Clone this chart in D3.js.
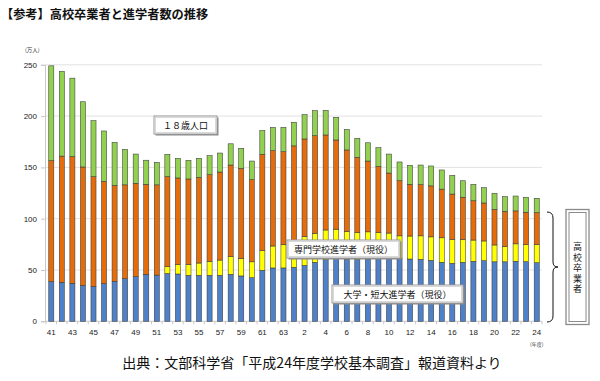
<!DOCTYPE html>
<html><head><meta charset="utf-8">
<script src="https://cdn.jsdelivr.net/npm/d3@7"></script>
<style>
html,body{margin:0;padding:0;background:#fff;}
svg{display:block;}
</style></head>
<body>
<svg id="chart" width="600" height="381"></svg>
<script>
// 年度 (昭和41〜63, 平成元〜24)
const categories = ["41","42","43","44","45","46","47","48","49","50","51","52","53","54","55","56","57","58","59","60","61","62","63",
  "元","2","3","4","5","6","7","8","9","10","11","12","13","14","15","16","17","18","19","20","21","22","23","24"];
const tickLabels = ["41","43","45","47","49","51","53","55","57","59","61","63","2","4","6","8","10","12","14","16","18","20","22","24"];
// 18歳人口 (万人)
const population18 = [249,243.6,237,214,195.5,185.5,174.4,167.6,163,157,155,162.8,158.8,156.9,158.8,161.4,164,173,168.6,156.2,186,189,189,
  194,201.4,205.3,205.6,198.8,187,178.4,174,169.2,163,155.3,152,152.3,151.4,147.5,142.3,137,133.5,130.2,124.8,121.5,122.1,120.9,119.9];
// 高校卒業者 (万人)
const graduates = [156.5,161,160.6,150.4,141,136.4,132.5,133,134.5,133.5,133,141,139.7,138.7,140.3,142.9,145.5,152.3,149,138,162.7,166.3,165.3,
  171,177.7,180.9,181.6,176.7,167,159.8,156.2,151,144.5,137,133.5,133.2,132,128.8,124,120.9,117.5,115.3,109.1,107.2,107.6,106.3,106];
// 大学・短大進学者（現役）(万人)
const university = [38.6,38,37,35,34,36.7,39,41.5,43.5,45.8,45,46.6,46.1,44.8,44.8,44.8,44.8,45.8,44.2,42.5,49.7,52,52,
  52.6,54.5,57.5,60,61.5,60.5,60.3,60.8,61,61,61.2,60.7,60.4,59.4,57.5,56.5,57.5,58.5,59.1,58,58,58.5,58.1,57.1];
// 専門学校進学者（現役）(万人)
const vocational = [0,0,0,0,0,0,0,0,0,0,0,6.9,9.4,10.7,12,13.7,14.9,17.2,17.2,15.5,19.3,21.4,22.6,
  25.4,28,28.3,29,28.3,26.9,26.1,26.4,25.7,25,22.1,22.4,22.9,22.9,23.9,23.4,22,20.7,19.2,16.4,15,17,16.6,17.6];
const yTicks = [0,50,100,150,200,250];
const seriesKeys = ["univ","voc","rest","other"];
const seriesColors = {univ:"#4f81c9", voc:"#ffff00", rest:"#e46c0a", other:"#92d050"};

const rows = categories.map((c,i)=>({
  cat:c,
  univ:university[i],
  voc:vocational[i],
  rest:graduates[i]-university[i]-vocational[i],
  other:population18[i]-graduates[i]
}));

const svg = d3.select("#chart");
svg.append("rect").attr("width",600).attr("height",381).attr("fill","#fff");

const pL=45, pR=542, pT=64.8, pB=321.3;
const x = d3.scaleBand().domain(categories).range([46,542]).paddingInner(0.52).paddingOuter(0.26);
const y = d3.scaleLinear().domain([0,250]).range([pB,pT]);

const numFont = "'Liberation Sans', Arial, sans-serif";
const jpFont = "'Noto Sans CJK JP', sans-serif";

// title
svg.append("text").attr("x",1).attr("y",19).attr("font-family",jpFont).attr("font-size",12.2)
  .attr("font-weight","bold").attr("fill","#111").text("【参考】高校卒業者と進学者数の推移");

// gridlines
svg.append("g").selectAll("line").data(yTicks.filter(d=>d>0)).join("line")
  .attr("x1",pL).attr("x2",pR).attr("y1",d=>y(d)).attr("y2",d=>y(d))
  .attr("stroke","#e2e2e2").attr("stroke-width",1);

// y axis
const yAxis = d3.axisLeft(y).tickValues(yTicks).tickSize(4).tickPadding(4);
const gy = svg.append("g").attr("transform",`translate(${pL},0)`).call(yAxis);
gy.select(".domain").attr("stroke","#c8c8c8");
gy.selectAll(".tick line").attr("stroke","#c8c8c8");
gy.selectAll("text").attr("font-family",numFont).attr("font-size",8).attr("fill","#222");

// x axis
const xAxis = d3.axisBottom(x).tickSize(0).tickPadding(8)
  .tickFormat(d=>tickLabels.includes(d) && categories.indexOf(d)%2===0 ? d : "");
const gx = svg.append("g").attr("transform",`translate(0,${pB})`).call(xAxis);
gx.select(".domain").attr("stroke","#c8c8c8").attr("d",`M${pL},0H${pR}`);
gx.selectAll("text").attr("font-family",numFont).attr("font-size",8).attr("fill","#222");
// tick marks between categories
const step = x.step();
const gap = (step-x.bandwidth())/2;
const bounds = categories.map(d=>x(d)-gap).concat([x(categories[categories.length-1])+x.bandwidth()+gap]);
gx.append("g").selectAll("line").data(bounds).join("line")
  .attr("x1",d=>d).attr("x2",d=>d)
  .attr("y1",0).attr("y2",3).attr("stroke","#c8c8c8");

// units
svg.append("text").attr("x",25).attr("y",52).attr("font-family",jpFont).attr("font-size",5.5).attr("fill","#333").text("(万人)");
svg.append("text").attr("x",530).attr("y",346).attr("font-family",jpFont).attr("font-size",5).attr("fill","#333").text("(年度)");

// stacked bars
const stacked = d3.stack().keys(seriesKeys)(rows);
svg.append("g").selectAll("g").data(stacked).join("g")
  .attr("fill",d=>seriesColors[d.key])
  .selectAll("rect").data(d=>d.filter(s=>s[1]-s[0]>0)).join("rect")
  .attr("x",d=>x(d.data.cat)).attr("width",x.bandwidth())
  .attr("y",d=>y(d[1])).attr("height",d=>y(d[0])-y(d[1]))
  .attr("stroke","#3a3a3a").attr("stroke-width",0.55);

// label boxes
function labelBox(x0,y0,w,h,text){
  const g = svg.append("g");
  g.append("rect").attr("x",x0+1.5).attr("y",y0+1.5).attr("width",w).attr("height",h).attr("fill","#8a8a8a");
  g.append("rect").attr("x",x0).attr("y",y0).attr("width",w).attr("height",h).attr("fill","#fff").attr("stroke","#9a9a9a").attr("stroke-width",1);
  g.append("rect").attr("x",x0+1.5).attr("y",y0+1.5).attr("width",w-3).attr("height",h-3).attr("fill","none").attr("stroke","#d0d0d0").attr("stroke-width",0.8);
  g.append("text").attr("x",x0+w/2).attr("y",y0+h/2).attr("text-anchor","middle").attr("dominant-baseline","central")
    .attr("font-family",jpFont).attr("font-size",9).attr("fill","#111").text(text);
}
labelBox(154,116,63,18,"１８歳人口");
labelBox(287,240,113,18,"専門学校進学者（現役）");
labelBox(332,285,131,18,"大学・短大進学者（現役）");

// brace
svg.append("path")
  .attr("d","M547,212 Q553,212 553,218 L553,262 Q553,267 558,267 Q553,267 553,272 L553,316 Q553,322 547,322")
  .attr("fill","none").attr("stroke","#111").attr("stroke-width",1);

// vertical box
const vb = svg.append("g");
vb.append("rect").attr("x",566).attr("y",209.5).attr("width",23).attr("height",115).attr("fill","#fff").attr("stroke","#8a8a8a").attr("stroke-width",1.3);
vb.append("rect").attr("x",569).attr("y",212.5).attr("width",17).attr("height",109).attr("fill","none").attr("stroke","#8a8a8a").attr("stroke-width",1);
vb.append("text").attr("x",577.5).attr("y",242)
  .attr("writing-mode","vertical-rl").style("writing-mode","vertical-rl")
  .attr("letter-spacing",1.6)
  .attr("font-family",jpFont).attr("font-size",9).attr("fill","#111").text("高校卒業者");

// source
svg.append("text").attr("x",312).attr("y",362).attr("text-anchor","middle").attr("dominant-baseline","central")
  .attr("font-family",jpFont).attr("font-size",14).attr("fill","#111").text("出典：文部科学省「平成24年度学校基本調査」報道資料より");
</script>
</body></html>
